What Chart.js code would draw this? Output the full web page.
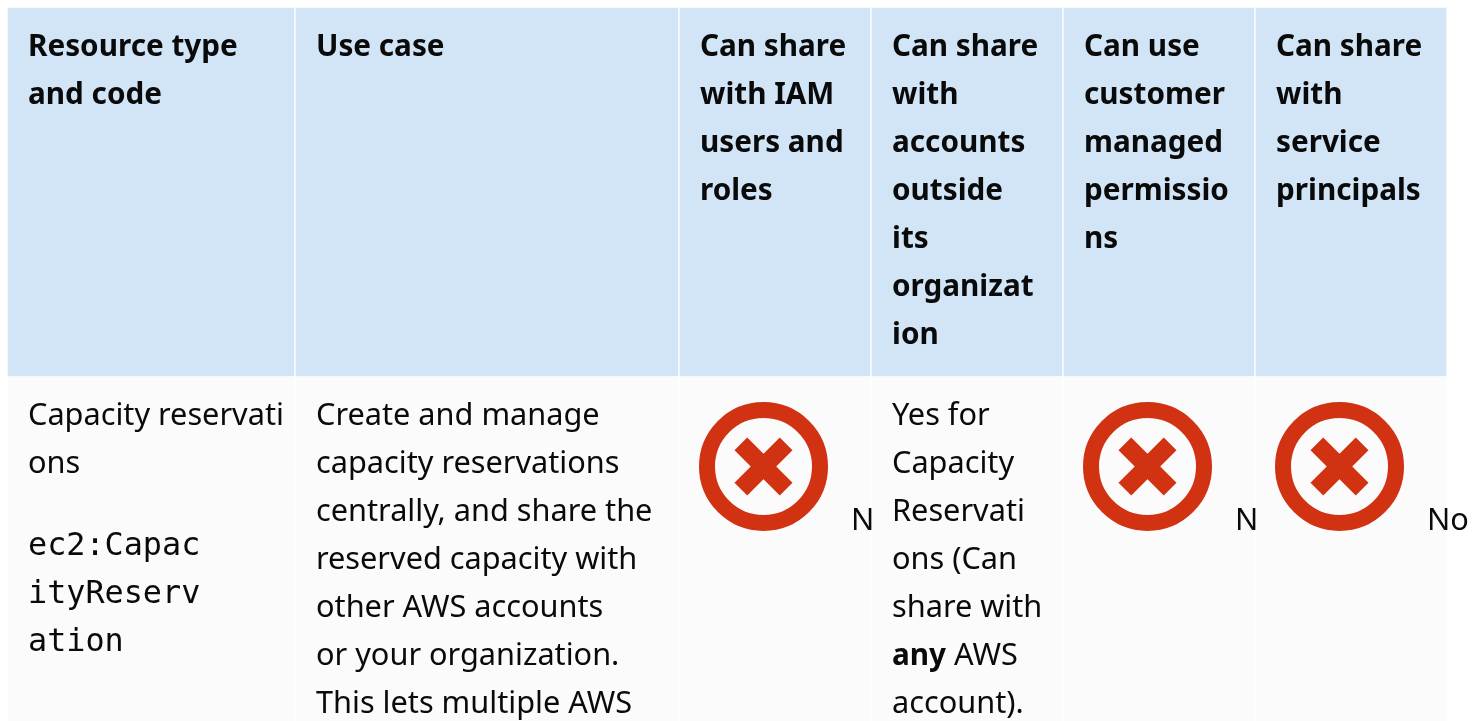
<!DOCTYPE html>
<html>
<head>
<meta charset="utf-8">
<title>Resource types</title>
<style>
  html, body { margin: 0; padding: 0; background: #fff; overflow: hidden; }
  canvas { display: block; }
</style>
<script src="https://cdn.jsdelivr.net/npm/chart.js@4"></script>
</head>
<body>
<canvas id="myChart" width="1482" height="721"></canvas>
<script>
// Table content
const headers = [
  ['Resource type', 'and code'],
  ['Use case'],
  ['Can share', 'with IAM', 'users and', 'roles'],
  ['Can share', 'with', 'accounts', 'outside', 'its', 'organizat', 'ion'],
  ['Can use', 'customer', 'managed', 'permissio', 'ns'],
  ['Can share', 'with', 'service', 'principals']
];
const resourceName = ['Capacity reservati', 'ons'];
const resourceCode = ['ec2:Capac', 'ityReserv', 'ation'];
const useCase = [
  'Create and manage',
  'capacity reservations',
  'centrally, and share the',
  'reserved capacity with',
  'other AWS accounts',
  'or your organization.',
  'This lets multiple AWS'
];
const outsideOrg = ['Yes for', 'Capacity', 'Reservati', 'ons (Can', 'share with', '*any* AWS', 'account).'];
const clippedAnswers = ['N', 'N', 'No'];

// Layout of the table, in page pixels
const colStart = [8, 296, 680, 872, 1064, 1256];
const colEnd = [294, 678, 870, 1062, 1254, 1446];
const headTop = 8, headBottom = 376, bodyTop = 377, bodyBottom = 721;
const iconCols = [2, 4, 5];
const pad = 20, lineGap = 48, iconY = 466.5;

const midOf = (a, b) => (a + b) / 2;
const cells = (top, bottom) => colStart.map((s, i) => ({ x: [s, colEnd[i]], y: midOf(top, bottom) }));
const iconPoints = iconCols.map(c => ({ x: colStart[c] + 83.5, y: iconY }));

const bodyFont = '30.7px "Noto Sans"';
const boldFont = 'bold 29.7px "Noto Sans"';
const monoFont = '31.8px "DejaVu Sans Mono"';
const textColor = '#0a0a0a';
const bodyColor = '#fbfbfb';

// Draws the cell text through the chart's scales
const tableText = {
  id: 'tableText',
  afterDatasetsDraw(chart) {
    const { ctx, scales: { x, y } } = chart;

    function put(str, left, base, font) {
      ctx.font = font;
      ctx.fillText(str, x.getPixelForValue(left), y.getPixelForValue(base));
    }

    // a part between * * is bold
    function putMixed(str, left, base) {
      let cursor = x.getPixelForValue(left);
      str.split('*').forEach((part, i) => {
        ctx.font = i % 2 ? boldFont : bodyFont;
        ctx.fillText(part, cursor, y.getPixelForValue(base));
        cursor += ctx.measureText(part).width;
      });
    }

    ctx.save();
    ctx.fillStyle = textColor;
    ctx.textBaseline = 'alphabetic';
    ctx.textAlign = 'left';
    ctx.filter = 'blur(0.4px)'; // the reference is a soft upscaled screenshot

    headers.forEach((lines, c) => {
      lines.forEach((l, i) => put(l, colStart[c] + pad, 56 + i * lineGap, boldFont));
    });

    resourceName.forEach((l, i) => put(l, colStart[0] + pad, 425 + i * lineGap, bodyFont));
    resourceCode.forEach((l, i) => put(l, colStart[0] + pad, 555 + i * lineGap, monoFont));
    useCase.forEach((l, i) => put(l, colStart[1] + pad, 425 + i * lineGap, bodyFont));
    outsideOrg.forEach((l, i) => putMixed(l, colStart[3] + pad, 425 + i * lineGap));
    clippedAnswers.forEach((l, i) => put(l, colStart[iconCols[i]] + 171, 530, bodyFont));

    ctx.restore();
  }
};

const config = {
  type: 'bar',
  data: {
    datasets: [
      {
        label: 'Header',
        data: cells(headTop, headBottom),
        backgroundColor: '#d1e5f7',
        barThickness: headBottom - headTop,
        grouped: false,
        order: 3
      },
      {
        label: 'Body',
        data: cells(bodyTop, bodyBottom),
        backgroundColor: bodyColor,
        barThickness: bodyBottom - bodyTop,
        grouped: false,
        order: 3
      },
      {
        type: 'scatter',
        label: 'Ring',
        data: iconPoints,
        pointStyle: 'circle',
        pointRadius: 56.5,
        pointBorderWidth: 16,
        pointBorderColor: '#d13212',
        pointBackgroundColor: bodyColor,
        clip: false,
        order: 2
      },
      {
        type: 'scatter',
        label: 'Cross',
        data: iconPoints,
        pointStyle: 'crossRot',
        pointRadius: 32,
        pointBorderWidth: 18,
        pointBorderColor: '#d13212',
        clip: false,
        order: 1
      }
    ]
  },
  options: {
    indexAxis: 'y',
    responsive: false,
    animation: false,
    events: [],
    layout: { padding: 0, autoPadding: false },
    scales: {
      x: { type: 'linear', display: false, min: 0, max: 1482, offset: false },
      y: { type: 'linear', display: false, min: 0, max: 721, reverse: true, offset: false }
    },
    plugins: {
      legend: { display: false },
      title: { display: false },
      tooltip: { enabled: false }
    }
  },
  plugins: [tableText]
};

const myChart = new Chart(document.getElementById('myChart').getContext('2d'), config);
</script>
</body>
</html>
